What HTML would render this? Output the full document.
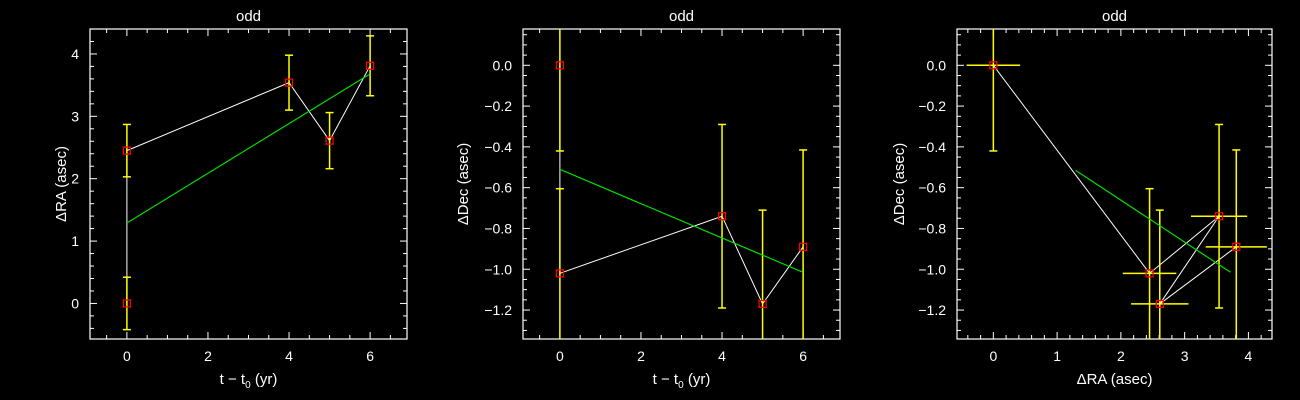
<!DOCTYPE html>
<html><head><meta charset="utf-8">
<style>
html,body{margin:0;padding:0;background:#000;}
svg{display:block;}
text{font-family:"Liberation Sans","DejaVu Sans",sans-serif;fill:#fff;}
</style></head>
<body>
<svg id="fig" width="1300" height="400" viewBox="0 0 1300 400" xmlns="http://www.w3.org/2000/svg"></svg>
<script>
// ---- data ----
const epochs = [0, 0, 4, 5, 6];
const dRA = [0, 2.45, 3.54, 2.61, 3.81];
const dRAerr = [0.42, 0.42, 0.44, 0.45, 0.48];
const dDec = [0, -1.02, -0.74, -1.17, -0.89];
const dDecErr = [0.42, 0.415, 0.45, 0.46, 0.475];
const raFitT = [0, 6];
const raFitV = [1.29, 3.68];
const decFitT = [0, 6];
const decFitV = [-0.51, -1.015];
const skyFitRA = [1.29, 3.72];
const skyFitDec = [-0.515, -1.015];
const tTicks = [0, 2, 4, 6];
const raTicks = [0, 1, 2, 3, 4];
const decTicks = [0.0, -0.2, -0.4, -0.6, -0.8, -1.0, -1.2];

const NS = "http://www.w3.org/2000/svg";
const fig = document.getElementById('fig');
function mk(tag, attrs, parent){
  const e = document.createElementNS(NS, tag);
  for (const k in attrs) e.setAttribute(k, attrs[k]);
  (parent||fig).appendChild(e);
  return e;
}
function fmt(v, dec){ let s = v.toFixed(dec); return s.replace('-', '\u2212'); }

function panel(opt){
  const g = mk('g', {});
  
  
  const {x0,x1,y0,y1} = opt.box;
  const sx = v => x0 + (v - opt.xr[0]) / (opt.xr[1] - opt.xr[0]) * (x1 - x0);
  const sy = v => y1 - (v - opt.yr[0]) / (opt.yr[1] - opt.yr[0]) * (y1 - y0);
  // title
  const t = mk('text', {x:(x0+x1)/2, y:21, 'text-anchor':'middle', 'font-size':15}, g);
  t.textContent = 'odd';
  
  
  // frame
  const fr = mk('rect', {x:x0, y:y0, width:x1-x0, height:y1-y0, fill:'none', stroke:'#fff', 'stroke-width':1.2}, g);
  
  
  // x ticks
  const xmin = Math.ceil(opt.xr[0]/opt.xMinor - 1e-9);
  for (let i = xmin; i*opt.xMinor <= opt.xr[1] + 1e-9; i++){
    const v = i*opt.xMinor, px = sx(v);
    const major = Math.abs(v/opt.xMajor - Math.round(v/opt.xMajor)) < 1e-6;
    const L = major ? 7 : 4;
    mk('line', {x1:px, x2:px, y1:y1, y2:y1-L, stroke:'#fff', 'stroke-width':1}, g);
    mk('line', {x1:px, x2:px, y1:y0, y2:y0+L, stroke:'#fff', 'stroke-width':1}, g);
  }
  opt.xTicks.forEach(v => {
    const tx = mk('text', {x:sx(v), y:y1+22, 'text-anchor':'middle', 'font-size':14}, g);
    tx.textContent = fmt(v, opt.xDec);
    
    
  });
  const ymin = Math.ceil(opt.yr[0]/opt.yMinor - 1e-9);
  for (let i = ymin; i*opt.yMinor <= opt.yr[1] + 1e-9; i++){
    const v = i*opt.yMinor, py = sy(v);
    const major = Math.abs(v/opt.yMajor - Math.round(v/opt.yMajor)) < 1e-6;
    const L = major ? 7 : 4;
    mk('line', {x1:x0, x2:x0+L, y1:py, y2:py, stroke:'#fff', 'stroke-width':1}, g);
    mk('line', {x1:x1, x2:x1-L, y1:py, y2:py, stroke:'#fff', 'stroke-width':1}, g);
  }
  opt.yTicks.forEach(v => {
    const ty = mk('text', {x:x0-11, y:sy(v)+5, 'text-anchor':'end', 'font-size':14}, g);
    ty.textContent = fmt(v, opt.yDec);
    
    
  });
  const xl = mk('text', {x:(x0+x1)/2, y:384, 'text-anchor':'middle', 'font-size':15}, g);
  xl.innerHTML = opt.xLabel;
  
  
  const cy = (y0+y1)/2, cx = opt.yLabelX;
  const yl = mk('text', {x:cx, y:cy, 'text-anchor':'middle', 'font-size':15, transform:`rotate(-90 ${cx} ${cy})`}, g);
  yl.textContent = opt.yLabel;
  
  
  // clip
  const cid = 'clip' + opt.name;
  const cp = mk('clipPath', {id:cid}, g);
  mk('rect', {x:x0, y:y0, width:x1-x0, height:y1-y0}, cp);
  const pg = mk('g', {'clip-path':`url(#${cid})`}, g);
  // data line
  const pts = opt.xs.map((v,i) => sx(v)+','+sy(opt.ys[i])).join(' ');
  const dl = mk('polyline', {points:pts, fill:'none', stroke:'#fff', 'stroke-width':1}, pg);
  
  
  // error bars
  opt.xs.forEach((v,i) => {
    const px = sx(v), py = sy(opt.ys[i]);
    if (opt.yErr){
      const a = sy(opt.ys[i]+opt.yErr[i]), b = sy(opt.ys[i]-opt.yErr[i]);
      const e = mk('line', {x1:px, x2:px, y1:a, y2:b, stroke:'#ffff00', 'stroke-width':1.5}, pg);
      
      
      mk('line', {x1:px-4, x2:px+4, y1:a, y2:a, stroke:'#ffff00', 'stroke-width':1.5}, pg);
      mk('line', {x1:px-4, x2:px+4, y1:b, y2:b, stroke:'#ffff00', 'stroke-width':1.5}, pg);
    }
    if (opt.xErr){
      const a = sx(v-opt.xErr[i]), b = sx(v+opt.xErr[i]);
      const e = mk('line', {x1:a, x2:b, y1:py, y2:py, stroke:'#ffff00', 'stroke-width':1.5}, pg);
      
      
    }
  });
  // fit
  const fl = mk('line', {x1:sx(opt.fitX[0]), y1:sy(opt.fitY[0]), x2:sx(opt.fitX[1]), y2:sy(opt.fitY[1]), stroke:'#00dd00', 'stroke-width':1.2}, pg);
  
  
  // markers
  opt.xs.forEach((v,i) => {
    const m = mk('rect', {x:sx(v)-3.5, y:sy(opt.ys[i])-3.5, width:7, height:7, fill:'none', stroke:'#ff0000', 'stroke-width':1.3}, pg);
    
    
  });
}

const decOrderT = [0, 0, 4, 5, 6];
panel({name:'ra-vs-time', box:{x0:90,x1:407,y0:29,y1:339}, xr:[-0.91,6.91], yr:[-0.57,4.4],
  xMajor:2, xMinor:0.5, yMajor:1, yMinor:0.2, xTicks:tTicks, yTicks:raTicks, xDec:0, yDec:0,
  xLabel:'t \u2212 t<tspan font-size="10" dy="4">0</tspan><tspan dy="-4"> (yr)</tspan>', yLabel:'\u0394RA (asec)', yLabelX:66,
  xs:epochs, ys:dRA, yErr:dRAerr, fitX:raFitT, fitY:raFitV});
panel({name:'dec-vs-time', box:{x0:523,x1:840,y0:29,y1:339}, xr:[-0.91,6.91], yr:[-1.342,0.178],
  xMajor:2, xMinor:0.5, yMajor:0.2, yMinor:0.05, xTicks:tTicks, yTicks:decTicks, xDec:0, yDec:1,
  xLabel:'t \u2212 t<tspan font-size="10" dy="4">0</tspan><tspan dy="-4"> (yr)</tspan>', yLabel:'\u0394Dec (asec)', yLabelX:468,
  xs:decOrderT, ys:[dDec[0], dDec[1], dDec[2], dDec[3], dDec[4]], yErr:dDecErr, fitX:decFitT, fitY:decFitV});
panel({name:'dec-vs-ra', box:{x0:957,x1:1272,y0:29,y1:339}, xr:[-0.57,4.37], yr:[-1.342,0.178],
  xMajor:1, xMinor:0.2, yMajor:0.2, yMinor:0.05, xTicks:raTicks, yTicks:decTicks, xDec:0, yDec:1,
  xLabel:'\u0394RA (asec)', yLabel:'\u0394Dec (asec)', yLabelX:904,
  xs:[dRA[0], dRA[1], dRA[2], dRA[3], dRA[4]], ys:dDec, yErr:dDecErr, xErr:dRAerr, fitX:skyFitRA, fitY:skyFitDec});
</script>
</body></html>
